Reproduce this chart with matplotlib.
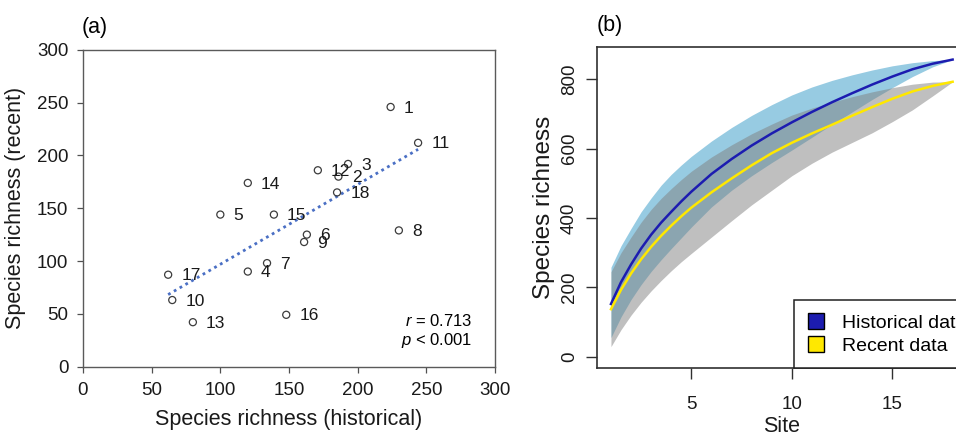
import numpy as np
import matplotlib
matplotlib.use("Agg")
import matplotlib.pyplot as plt
from matplotlib.patches import Patch

plt.rcParams['font.family'] = ['Liberation Sans', 'DejaVu Sans']
plt.rcParams['mathtext.fontset'] = 'custom'
plt.rcParams['mathtext.it'] = 'Liberation Sans:italic'
plt.rcParams['mathtext.rm'] = 'Liberation Sans'

# ---------------- Panel (a) data ----------------
site_ids = ['1', '2', '3', '4', '5', '6', '7', '8', '9', '10', '11', '12',
            '13', '14', '15', '16', '17', '18']
rich_hist = [224, 186, 193, 120, 100, 163, 134, 230, 161, 65, 244, 171,
             80, 120, 139, 148, 62, 185]
rich_recent = [246, 180, 192, 90, 144, 125, 98, 129, 118, 63, 212, 186,
               42, 174, 144, 49, 87, 165]
stat_r = "0.713"
stat_p = "0.001"

# ---------------- Panel (b) data ----------------
sites = [1, 1.5, 2, 2.5, 3, 3.5, 4, 4.5, 5, 6, 7, 8, 9, 10, 11, 12, 13, 14,
         15, 16, 17, 18]
hist_mean = [152, 215, 266, 312, 352, 387, 418, 448, 476, 527, 570, 609,
             644, 676, 706, 734, 760, 785, 808, 829, 845, 857]
hist_upper = [258, 320, 370, 418, 458, 495, 526, 553, 578, 622, 661, 696,
              727, 755, 778, 797, 813, 827, 839, 848, 854, 857]
hist_lower = [55, 115, 165, 208, 246, 280, 312, 343, 374, 432, 480, 522,
              560, 596, 633, 670, 706, 742, 776, 808, 836, 857]
rec_mean = [137, 193, 240, 281, 317, 349, 378, 405, 430, 474, 514, 552,
            587, 617, 644, 669, 695, 720, 744, 765, 781, 793]
rec_upper = [245, 300, 345, 388, 425, 457, 485, 511, 535, 576, 611, 643,
             671, 697, 717, 734, 750, 764, 776, 786, 792, 793]
rec_lower = [29, 78, 120, 157, 190, 220, 248, 274, 298, 345, 392, 438,
             480, 522, 558, 590, 618, 646, 678, 712, 752, 793]

fig = plt.figure(figsize=(9.56, 4.40), dpi=100)

# ================= Panel (a) =================
axa = fig.add_axes([83 / 956, 1 - 366.5 / 440, 412 / 956, 316.5 / 440])
axa.scatter(rich_hist, rich_recent, s=26, facecolors='none',
            edgecolors='#3c3c3c', linewidths=0.9, zorder=3)
for xv, yv, lab in zip(rich_hist, rich_recent, site_ids):
    axa.annotate(lab, (xv, yv), xytext=(9.5, -0.8), textcoords='offset points',
                 va='center', ha='left', fontsize=12.5, color='#1a1a1a')
coef = np.polyfit(rich_hist, rich_recent, 1)
xl = np.array([min(rich_hist), max(rich_hist)])
axa.plot(xl, np.polyval(coef, xl), linestyle=(0, (1, 1.4)), color='#4a6fc4',
         linewidth=2.0, zorder=2)
axa.text(0.946, 0.145, r'$r$ = ' + stat_r, transform=axa.transAxes,
         ha='right', va='center', fontsize=12)
axa.text(0.946, 0.082, r'$p$ < ' + stat_p, transform=axa.transAxes,
         ha='right', va='center', fontsize=12)
axa.set_xlim(0, 300)
axa.set_ylim(0, 300)
axa.set_xticks(np.arange(0, 301, 50))
axa.set_yticks(np.arange(0, 301, 50))
axa.tick_params(axis='both', direction='out', length=4.5, width=0.9,
                color='#505050', labelsize=13.5, labelcolor='#1a1a1a')
axa.tick_params(axis='y', pad=6)
axa.tick_params(axis='x', pad=6.5)
for sp in axa.spines.values():
    sp.set_color('#5a5a5a')
    sp.set_linewidth(1.0)
axa.set_xlabel('Species richness (historical)', fontsize=15.5, labelpad=7,
               color='#1a1a1a')
axa.set_ylabel('Species richness (recent)', fontsize=15.5, labelpad=8,
               color='#1a1a1a')
fig.text(82 / 956, 1 - 27 / 440, '(a)', fontsize=15.5, ha='left', va='center')

# ================= Panel (b) =================
axb = fig.add_axes([597.3 / 956, 1 - 368.3 / 440, 369 / 956, 321 / 440])
axb.fill_between(sites, hist_lower, hist_upper, color='#97cbe2', linewidth=0,
                 zorder=1)
axb.fill_between(sites, rec_lower, rec_upper, color='#808080', alpha=0.5,
                 linewidth=0, zorder=2)
axb.plot(sites, hist_mean, color='#1c1cb0', linewidth=1.8, zorder=3)
axb.plot(sites, rec_mean, color='#ffe800', linewidth=1.8, zorder=4)
axb.set_xlim(0.32, 18.68)
axb.set_ylim(-33.5, 892.4)
axb.set_xticks([5, 10, 15])
axb.set_yticks([0, 200, 400, 600, 800])
axb.tick_params(axis='both', direction='out', length=8, width=1.0,
                color='#303030', labelsize=13.5, labelcolor='#1a1a1a')
axb.tick_params(axis='x', pad=12)
axb.tick_params(axis='y', pad=6)
for lab in axb.get_yticklabels():
    lab.set_rotation(90)
    lab.set_va('center')
for sp in axb.spines.values():
    sp.set_color('#303030')
    sp.set_linewidth(1.2)
axb.set_xlabel('Site', fontsize=15.5, labelpad=2, color='#1a1a1a')
axb.set_ylabel('Species richness', fontsize=17.5, labelpad=4, color='#1a1a1a')
handles = [Patch(facecolor='#1c1cb0', edgecolor='black', linewidth=1.0),
           Patch(facecolor='#ffe800', edgecolor='black', linewidth=1.0)]
leg = axb.legend(handles, ['Historical data', 'Recent data'], loc='lower left',
                 bbox_to_anchor=((794 - 597.3) / 369, 0), borderaxespad=0,
                 fancybox=False, framealpha=1, edgecolor='#202020',
                 fontsize=14, handlelength=0.85, handleheight=0.85,
                 handletextpad=0.9, borderpad=0.7, labelspacing=0.22)
leg.get_frame().set_linewidth(1.1)
fig.text(597 / 956, 1 - 25 / 440, '(b)', fontsize=15.5, ha='left', va='center')

fig.savefig('out.png', dpi=100)
